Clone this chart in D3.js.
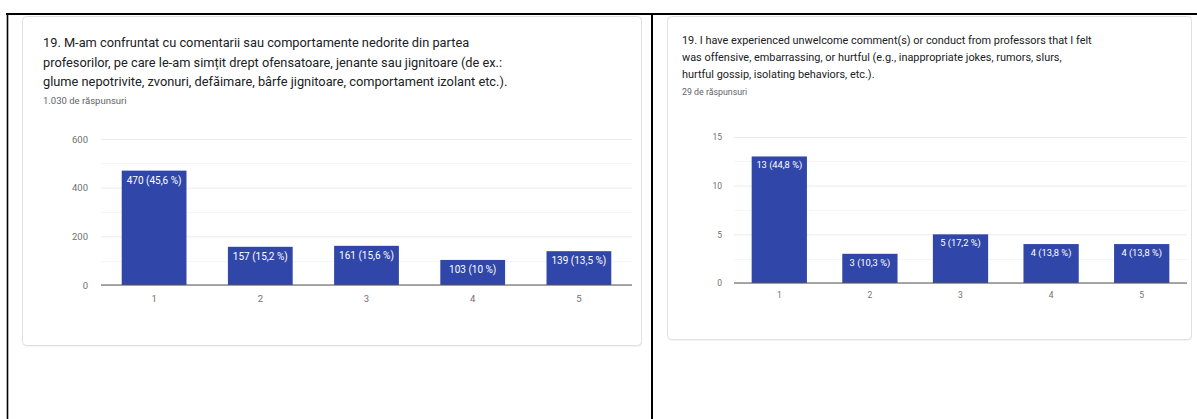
<!DOCTYPE html>
<html>
<head>
<meta charset="utf-8">
<script src="https://cdn.jsdelivr.net/npm/d3@7"></script>
<style>
  html, body { margin: 0; padding: 0; background: #fff; }
  svg { display: block; font-family: Roboto, "Noto Sans", sans-serif; }
</style>
</head>
<body>
<svg id="chart" width="1197" height="419"></svg>
<script>
// Data
var categories = ["1", "2", "3", "4", "5"];

var roTitle = [
    "19. M-am confruntat cu comentarii sau comportamente nedorite din partea",
    "profesorilor, pe care le-am simțit drept ofensatoare, jenante sau jignitoare (de ex.:",
    "glume nepotrivite, zvonuri, defăimare, bârfe jignitoare, comportament izolant etc.)."
];
var roResponses = "1.030 de răspunsuri";
var roCounts = [470, 157, 161, 103, 139];
var roTicks = [0, 200, 400, 600];

var enTitle = [
    "19. I have experienced unwelcome comment(s) or conduct from professors that I felt",
    "was offensive, embarrassing, or hurtful (e.g., inappropriate jokes, rumors, slurs,",
    "hurtful gossip, isolating behaviors, etc.)."
];
var enResponses = "29 de răspunsuri";
var enCounts = [13, 3, 5, 4, 4];
var enTicks = [0, 5, 10, 15];

var svg = d3.select("#chart");
var barColor = "#3047a9";

// Table borders of the document page
svg.append("line").attr("x1", 6).attr("x2", 1197).attr("y1", 14).attr("y2", 14)
    .attr("stroke", "#000").attr("stroke-width", 2);
svg.append("line").attr("x1", 7.5).attr("x2", 7.5).attr("y1", 13).attr("y2", 419)
    .attr("stroke", "#000").attr("stroke-width", 1.6);
svg.append("line").attr("x1", 652).attr("x2", 652).attr("y1", 13).attr("y2", 419)
    .attr("stroke", "#000").attr("stroke-width", 2);

// Percent label like Google Forms: "45,6 %", "10 %"
function pctLabel(v, total) {
    var p = Math.round(v / total * 1000) / 10;
    var s = (p % 1 === 0) ? String(p) : p.toFixed(1).replace(".", ",");
    return v + " (" + s + " %)";
}

function drawPanel(cfg) {
    var g = svg.append("g");

    // Card with a faint shadow at the bottom
    g.append("rect")
        .attr("x", cfg.card.x + 1).attr("y", cfg.card.y + 1.5)
        .attr("width", cfg.card.w).attr("height", cfg.card.h)
        .attr("rx", 4)
        .attr("fill", "#ececec");
    g.append("rect")
        .attr("x", cfg.card.x + 0.5).attr("y", cfg.card.y + 0.5)
        .attr("width", cfg.card.w).attr("height", cfg.card.h)
        .attr("rx", 4)
        .attr("fill", "#fff")
        .attr("stroke", "#e0e0e0");

    // Title
    g.selectAll(".title")
        .data(cfg.title)
        .enter()
            .append("text")
            .attr("x", cfg.textX)
            .attr("y", function(d, i) { return cfg.titleY + i * cfg.lineH; })
            .attr("font-size", cfg.titleSize)
            .attr("fill", "#202124")
            .text(function(d) { return d; });

    g.append("text")
        .attr("x", cfg.textX)
        .attr("y", cfg.subY)
        .attr("font-size", cfg.subSize)
        .attr("fill", "#5f6368")
        .text(cfg.responses);

    // Scales
    var x = d3.scaleBand().domain(categories)
        .range([cfg.plot.x0, cfg.plot.x1])
        .paddingInner(0.39).paddingOuter(0.195);
    var y = d3.scaleLinear().domain([0, d3.max(cfg.ticks)])
        .range([cfg.plot.y0, cfg.plot.y1]);

    var total = d3.sum(cfg.counts);
    var step = cfg.ticks[1] - cfg.ticks[0];

    // Minor gridlines
    var minor = cfg.ticks.slice(0, -1).map(function(t) { return t + step / 2; });
    g.selectAll(".minor")
        .data(minor)
        .enter()
            .append("line")
            .attr("x1", cfg.plot.x0).attr("x2", cfg.plot.x1)
            .attr("y1", function(d) { return Math.round(y(d)) + 0.5; })
            .attr("y2", function(d) { return Math.round(y(d)) + 0.5; })
            .attr("stroke", "#f6f6f6");

    // Y axis (gridlines + labels)
    var yAxis = g.append("g")
        .attr("transform", "translate(" + cfg.plot.x0 + ",0)")
        .call(d3.axisLeft(y).tickValues(cfg.ticks)
            .tickSize(-(cfg.plot.x1 - cfg.plot.x0)).tickPadding(cfg.yPad));
    yAxis.select(".domain").remove();
    yAxis.selectAll(".tick line").attr("stroke", "#ebebeb");
    yAxis.selectAll(".tick text")
        .attr("fill", "#707070")
        .attr("font-size", cfg.axisSize)
        .attr("font-family", "Roboto, sans-serif");

    // Bars
    g.selectAll(".bar")
        .data(cfg.counts)
        .enter()
            .append("rect")
            .attr("x", function(d, i) { return x(categories[i]); })
            .attr("y", function(d) { return y(d); })
            .attr("width", x.bandwidth())
            .attr("height", function(d) { return y(0) - y(d); })
            .attr("fill", barColor);

    // Bar labels
    g.selectAll(".bar-label")
        .data(cfg.counts)
        .enter()
            .append("text")
            .attr("x", function(d, i) { return x(categories[i]) + x.bandwidth() / 2; })
            .attr("y", function(d) { return y(d) + cfg.labelDy; })
            .attr("text-anchor", "middle")
            .attr("font-size", cfg.labelSize)
            .attr("fill", "#fff")
            .text(function(d) { return pctLabel(d, total); });

    // X axis
    var xAxis = g.append("g")
        .attr("transform", "translate(0," + cfg.plot.y0 + ")")
        .call(d3.axisBottom(x).tickSize(0).tickPadding(cfg.xPad));
    xAxis.select(".domain").attr("stroke", "#555").attr("stroke-width", 1.2)
        .attr("d", "M" + cfg.plot.x0 + ",0H" + cfg.plot.x1);
    xAxis.selectAll(".tick text")
        .attr("fill", "#707070")
        .attr("font-size", cfg.axisSize)
        .attr("font-family", "Roboto, sans-serif");
}

drawPanel({
    card: {x: 22, y: 16, w: 619, h: 329},
    title: roTitle, responses: roResponses, counts: roCounts, ticks: roTicks,
    textX: 43, titleY: 47, lineH: 19.5, titleSize: 12.8,
    subY: 104, subSize: 9.5,
    plot: {x0: 101, x1: 632, y0: 285, y1: 139},
    yPad: 13, xPad: 10, axisSize: 9.5,
    labelSize: 10, labelDy: 13
});

drawPanel({
    card: {x: 667, y: 16, w: 524, h: 323},
    title: enTitle, responses: enResponses, counts: enCounts, ticks: enTicks,
    textX: 682, titleY: 44, lineH: 17, titleSize: 10.9,
    subY: 95, subSize: 8.8,
    plot: {x0: 734, x1: 1187, y0: 283, y1: 137},
    yPad: 12, xPad: 9, axisSize: 8.5,
    labelSize: 9.3, labelDy: 12
});
</script>
</body>
</html>
